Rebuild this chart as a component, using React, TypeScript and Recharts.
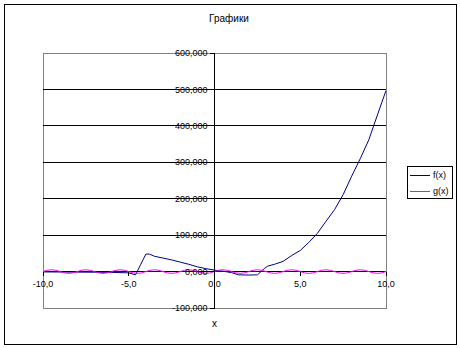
import React from 'react';
import { LineChart, Line, XAxis, YAxis, ReferenceLine, ReferenceArea } from 'recharts';

// f(x) (irregular x, values in the chart's own units)
const fX = [-10, -9, -8, -7, -6, -5, -4.6, -4.3, -4.0, -3.8, -3.5, -3.0, -2.5, -2.0, -1.5, -1.0, -0.5, 0, 0.5, 1.0, 1.4, 2.0, 2.5, 2.9, 3.1, 3.5, 4.0, 4.5, 5.0, 5.5, 6.0, 6.5, 7.0, 7.5, 8.0, 8.5, 9.0, 9.5, 10];
const fY = [-1, -1.2, -1.5, -1.8, -2.2, -3.5, -9, 20, 48, 48, 42, 37, 32, 26, 20, 13, 8, 4, 1, -3, -9, -9.5, -9, 8, 15, 20, 28, 44, 58, 80, 105, 138, 170, 211, 262, 310, 362, 430, 497];

// g(x) sampled every 0.25
const gX = [
  -10, -9.75, -9.5, -9.25, -9, -8.75, -8.5, -8.25, -8, -7.75, -7.5, -7.25, -7, -6.75, -6.5, -6.25,
  -6, -5.75, -5.5, -5.25, -5, -4.75, -4.5, -4.25, -4, -3.75, -3.5, -3.25, -3, -2.75, -2.5, -2.25,
  -2, -1.75, -1.5, -1.25, -1, -0.75, -0.5, -0.25, 0, 0.25, 0.5, 0.75, 1, 1.25, 1.5, 1.75,
  2, 2.25, 2.5, 2.75, 3, 3.25, 3.5, 3.75, 4, 4.25, 4.5, 4.75, 5, 5.25, 5.5, 5.75,
  6, 6.25, 6.5, 6.75, 7, 7.25, 7.5, 7.75, 8, 8.25, 8.5, 8.75, 9, 9.25, 9.5, 9.75, 10,
];
const gY = [
  0, 3.5, 5, 3.5, 0, -3.5, -5, -3.5, 0, 3.5, 5, 3.5, 0, -3.5, -5, -3.5,
  0, 3.5, 5, 3.5, 0, -3.5, -5, -3.5, 0, 3.5, 5, 3.5, 0, -3.5, -5, -3.5,
  0, 3.5, 5, 3.5, 0, -3.5, -5, -3.5, 0, 3.5, 5, 3.5, 0, -3.5, -5, -3.5,
  0, 3.5, 5, 3.5, 0, -3.5, -5, -3.5, 0, 3.5, 5, 3.5, 0, -3.5, -5, -3.5,
  0, 3.5, 5, 3.5, 0, -3.5, -5, -3.5, 0, 3.5, 5, 3.5, 0, -3.5, -5, -3.5, 0,
];

const xTicks = [-10, -5, 0, 5, 10];
const yTicks = [-100, 0, 100, 200, 300, 400, 500, 600];
const gridValues = [100, 200, 300, 400, 500];
const seriesNames = ['f(x)', 'g(x)'];
const seriesColors = ['#000080', '#ff00ff'];

const X_MIN = -10;
const X_MAX = 10;
const Y_MIN = -100;
const Y_MAX = 600;

const W = 460;
const H = 348;
const PLOT = { left: 43, top: 53, width: 343, height: 255 };
const AXIS_SIZE = 10;
const zeroX = PLOT.left + (PLOT.width * (0 - X_MIN)) / (X_MAX - X_MIN);
const zeroY = PLOT.top + (PLOT.height * (Y_MAX - 0)) / (Y_MAX - Y_MIN);

const FONT = '"Liberation Sans", Arial, sans-serif';

const fData = fX.map((x, i) => ({ x, y: fY[i] }));
const gData = gX.map((x, i) => ({ x, y: gY[i] }));

const fmtX = (v: number) => v.toFixed(1).replace('.', ',');
const fmtY = (v: number) => v.toFixed(3).replace('.', ',');

const renderXTick = (props: any) => {
  const { x, payload } = props;
  return (
    <g key={`xt-${payload.value}`}>
      <line x1={x} x2={x} y1={zeroY} y2={zeroY + 4} stroke="#000" shapeRendering="crispEdges" />
      <text x={x} y={zeroY + 12.5} dy="0.35em" textAnchor="middle" fontSize={9} fontFamily={FONT} fill="#000">
        {fmtX(payload.value)}
      </text>
    </g>
  );
};

const renderYTick = (props: any) => {
  const { y, payload } = props;
  return (
    <g key={`yt-${payload.value}`}>
      <line x1={zeroX - 5} x2={zeroX} y1={y} y2={y} stroke="#000" shapeRendering="crispEdges" />
      <text x={zeroX - 7} y={y} dy="0.35em" textAnchor="end" fontSize={9} fontFamily={FONT} fill="#000">
        {fmtY(payload.value)}
      </text>
    </g>
  );
};

export default function App() {
  return (
    <div style={{ position: 'absolute', left: 0, top: 0, width: W, height: H, background: '#fff', fontFamily: FONT }}>
      <div style={{ position: 'absolute', left: 4, top: 4, width: 451, height: 339, border: '1px solid #000' }} />
      <div style={{ position: 'absolute', left: 0, width: W - 2, top: 12, textAlign: 'center', fontSize: 10, lineHeight: '14px' }}>
        Графики
      </div>
      <div style={{ position: 'absolute', left: zeroX - 10, width: 20, top: 317, textAlign: 'center', fontSize: 10, lineHeight: '14px' }}>
        x
      </div>
      <div style={{ position: 'absolute', left: 0, top: 0 }}>
        <LineChart
          width={W}
          height={H}
          margin={{
            top: PLOT.top,
            left: PLOT.left - AXIS_SIZE,
            right: W - PLOT.left - PLOT.width,
            bottom: H - PLOT.top - PLOT.height - AXIS_SIZE,
          }}
        >
          <XAxis
            dataKey="x"
            type="number"
            domain={[X_MIN, X_MAX]}
            ticks={xTicks}
            interval={0}
            height={AXIS_SIZE}
            axisLine={false}
            tickLine={false}
            tick={renderXTick}
            allowDataOverflow
          />
          <YAxis
            type="number"
            domain={[Y_MIN, Y_MAX]}
            ticks={yTicks}
            interval={0}
            width={AXIS_SIZE}
            axisLine={false}
            tickLine={false}
            tick={renderYTick}
            allowDataOverflow
          />
          <ReferenceArea x1={X_MIN} x2={X_MAX} y1={Y_MIN} y2={Y_MAX} fill="none" fillOpacity={0} stroke="#808080" shapeRendering="crispEdges" />
          {gridValues.map((v) => (
            <ReferenceLine key={v} y={v} stroke="#000" shapeRendering="crispEdges" />
          ))}
          <ReferenceLine y={0} stroke="#000" shapeRendering="crispEdges" />
          <ReferenceLine x={0} stroke="#000" shapeRendering="crispEdges" />
          <Line data={fData} dataKey="y" name={seriesNames[0]} stroke={seriesColors[0]} strokeWidth={1} dot={false} isAnimationActive={false} />
          <Line data={gData} dataKey="y" name={seriesNames[1]} stroke={seriesColors[1]} strokeWidth={1} dot={false} isAnimationActive={false} />
        </LineChart>
      </div>
      <div style={{ position: 'absolute', left: 407, top: 166, width: 44, height: 31, border: '1px solid #000', background: '#fff' }}>
        {seriesNames.map((n, i) => (
          <div key={n} style={{ position: 'absolute', left: 2, top: 1 + i * 16, height: 14, display: 'flex', alignItems: 'center', fontSize: 9 }}>
            <span style={{ display: 'inline-block', width: 20, height: 1, background: seriesColors[i], marginRight: 3 }} />
            <span>{n}</span>
          </div>
        ))}
      </div>
    </div>
  );
}
